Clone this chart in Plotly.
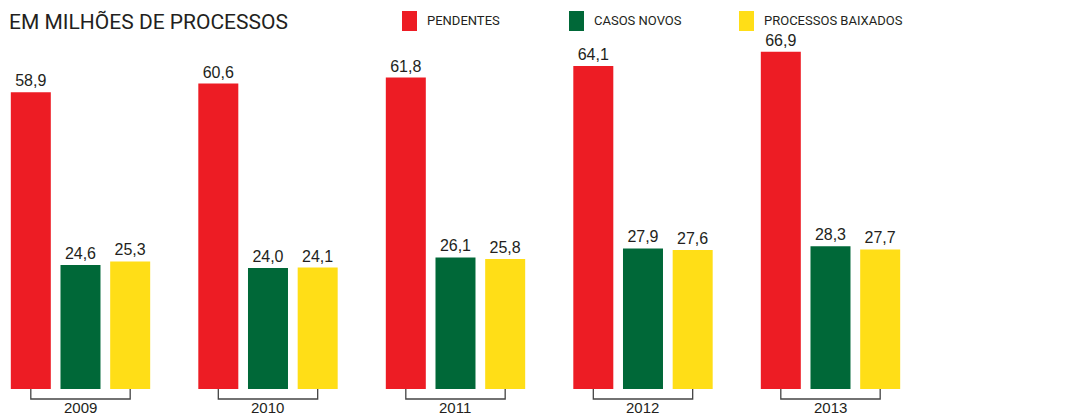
import plotly.graph_objects as go

# Dados (em milhões de processos)
anos = ["2009", "2010", "2011", "2012", "2013"]
pendentes = [58.9, 60.6, 61.8, 64.1, 66.9]
casos_novos = [24.6, 24.0, 26.1, 27.9, 28.3]
baixados = [25.3, 24.1, 25.8, 27.6, 27.7]

series = [
    ("PENDENTES", pendentes, "#ed1c24"),
    ("CASOS NOVOS", casos_novos, "#006838"),
    ("PROCESSOS BAIXADOS", baixados, "#ffde17"),
]

W, H = 1092, 413
FONT = "Liberation Sans, Arial, sans-serif"
HEAD = "Roboto, Liberation Sans, sans-serif"
TXT = "#231f20"

x = list(range(len(anos)))

fig = go.Figure()
for nome, vals, cor in series:
    fig.add_trace(go.Bar(
        x=x, y=vals, name=nome, marker=dict(color=cor, line=dict(width=0)),
        text=[f"{v:.1f}".replace(".", ",") for v in vals],
        textposition="outside", cliponaxis=False,
        textfont=dict(family=FONT, size=16, color=TXT),
        showlegend=False, hoverinfo="skip",
    ))

# Colchetes sob cada grupo de barras
off = 0.265
for i in x:
    fig.add_trace(go.Scatter(
        x=[i - off, i - off, i + off, i + off], y=[0, -1.98, -1.98, 0],
        mode="lines", line=dict(color="#444444", width=1.3),
        showlegend=False, hoverinfo="skip",
    ))
    fig.add_annotation(x=i, y=-3.75, text=anos[i], showarrow=False,
                       xref="x", yref="y", yanchor="middle",
                       font=dict(family=FONT, size=15, color=TXT))

# Título
fig.add_annotation(x=10 / W, y=1 - 22 / H, xref="paper", yref="paper",
                   text="EM MILHÕES DE PROCESSOS", showarrow=False,
                   xanchor="left", yanchor="middle", xshift=-3,
                   font=dict(family=HEAD, size=21, color=TXT))

# Legenda manual
leg_x = [402, 569, 739]
for (nome, _, cor), lx in zip(series, leg_x):
    fig.add_shape(type="rect", xref="paper", yref="paper",
                  x0=lx / W, x1=(lx + 15) / W, y0=1 - 31 / H, y1=1 - 11 / H,
                  fillcolor=cor, line=dict(width=0))
    fig.add_annotation(x=(lx + 26) / W, y=1 - 21 / H, xref="paper", yref="paper",
                       text=nome, showarrow=False, xanchor="left", yanchor="middle",
                       xshift=-3,
                       font=dict(family=HEAD, size=13, color=TXT))

fig.update_layout(
    width=W, height=H, margin=dict(l=0, r=0, t=0, b=0),
    paper_bgcolor="white", plot_bgcolor="white",
    barmode="group", bargap=0.205, bargroupgap=0.195,
    xaxis=dict(range=[-0.4293, 5.3947], visible=False),
    yaxis=dict(range=[-4.76, 77.18], visible=False),
)

fig.write_html("out.html")
